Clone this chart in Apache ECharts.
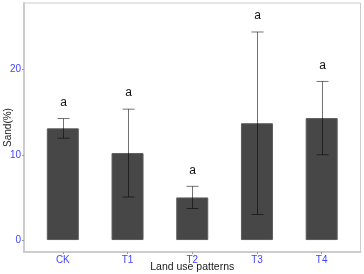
<!DOCTYPE html>
<html>
<head>
<meta charset="utf-8">
<script src="https://cdn.jsdelivr.net/npm/echarts@6/dist/echarts.min.js"></script>
<style>
  html, body { margin: 0; padding: 0; background: #fff; }
  #main { width: 364px; height: 274px; }
</style>
</head>
<body>
<div id="main"></div>
<script>
var categories = ['CK', 'T1', 'T2', 'T3', 'T4'];
var sandMean = [13.1, 10.2, 5.0, 13.7, 14.3];
var sandSd = [1.15, 5.15, 1.3, 10.7, 4.3];
var letters = ['a', 'a', 'a', 'a', 'a'];
var yTicks = [0, 10, 20];

var xPos = categories.map(function (c, i) { return i + 1; });
var barData = xPos.map(function (x, i) { return [x, sandMean[i]]; });
var errData = xPos.map(function (x, i) {
  return [x, sandMean[i] - sandSd[i], sandMean[i] + sandSd[i], i];
});

var chart = echarts.init(document.getElementById('main'), null, { renderer: 'canvas' });

var font = '"Liberation Sans", Arial, sans-serif';

var option = {
  animation: false,
  grid: {
    left: 24, top: 3, right: 3.5, bottom: 22,
    containLabel: false,
    outerBoundsMode: 'none',
    show: true, borderColor: '#cccccc', borderWidth: 1
  },
  xAxis: {
    type: 'value',
    min: 0.4, max: 5.6,
    name: 'Land use patterns',
    nameLocation: 'middle',
    nameGap: 10,
    nameMoveOverlap: false,
    nameTextStyle: { color: '#1a1a1a', fontSize: 10.5, fontFamily: font },
    splitLine: { show: false },
    axisLine: { show: true, onZero: false, lineStyle: { color: '#cccccc', width: 2 } },
    axisTick: { show: true, customValues: xPos, length: 2, lineStyle: { color: '#999' } },
    axisLabel: {
      customValues: xPos,
      color: '#4444ff', fontSize: 10, fontFamily: font, margin: 3,
      formatter: function (v) { return categories[Math.round(v) - 1] || ''; }
    }
  },
  yAxis: {
    type: 'value',
    min: -1.4, max: 27.8,
    name: 'Sand(%)',
    nameLocation: 'middle',
    nameGap: 11,
    nameMoveOverlap: false,
    nameRotate: 90,
    nameTextStyle: { color: '#1a1a1a', fontSize: 10, fontFamily: font },
    splitLine: { show: false },
    axisLine: { show: true, onZero: false, lineStyle: { color: '#cccccc', width: 2 } },
    axisTick: { show: true, customValues: yTicks, length: 2, lineStyle: { color: '#999' } },
    axisLabel: {
      customValues: yTicks,
      color: '#4444ff', fontSize: 10, fontFamily: font, margin: 3
    }
  },
  series: [
    {
      type: 'bar',
      data: barData,
      barWidth: 32,
      itemStyle: { color: '#474747', borderColor: '#5c5c5c', borderWidth: 1 }
    },
    {
      type: 'custom',
      data: errData,
      encode: { x: 0, y: [1, 2] },
      z: 10,
      renderItem: function (params, api) {
        var x = api.value(0);
        var lo = api.coord([x, api.value(1)]);
        var hi = api.coord([x, api.value(2)]);
        var half = 6;
        var cx = Math.round(lo[0]) + 0.5;
        var style = { stroke: 'rgba(0,0,0,0.55)', lineWidth: 1 };
        return {
          type: 'group',
          children: [
            { type: 'line', shape: { x1: cx, y1: hi[1], x2: cx, y2: lo[1] }, style: style },
            { type: 'line', shape: { x1: cx - half, y1: hi[1], x2: cx + half, y2: hi[1] }, style: style },
            { type: 'line', shape: { x1: cx - half, y1: lo[1], x2: cx + half, y2: lo[1] }, style: style },
            {
              type: 'text',
              x: cx, y: hi[1] - 16,
              style: {
                text: letters[api.value(3)],
                fill: '#111', fontSize: 12, fontFamily: font,
                align: 'center', verticalAlign: 'middle'
              }
            }
          ]
        };
      }
    }
  ]
};

chart.setOption(option);
</script>
</body>
</html>
